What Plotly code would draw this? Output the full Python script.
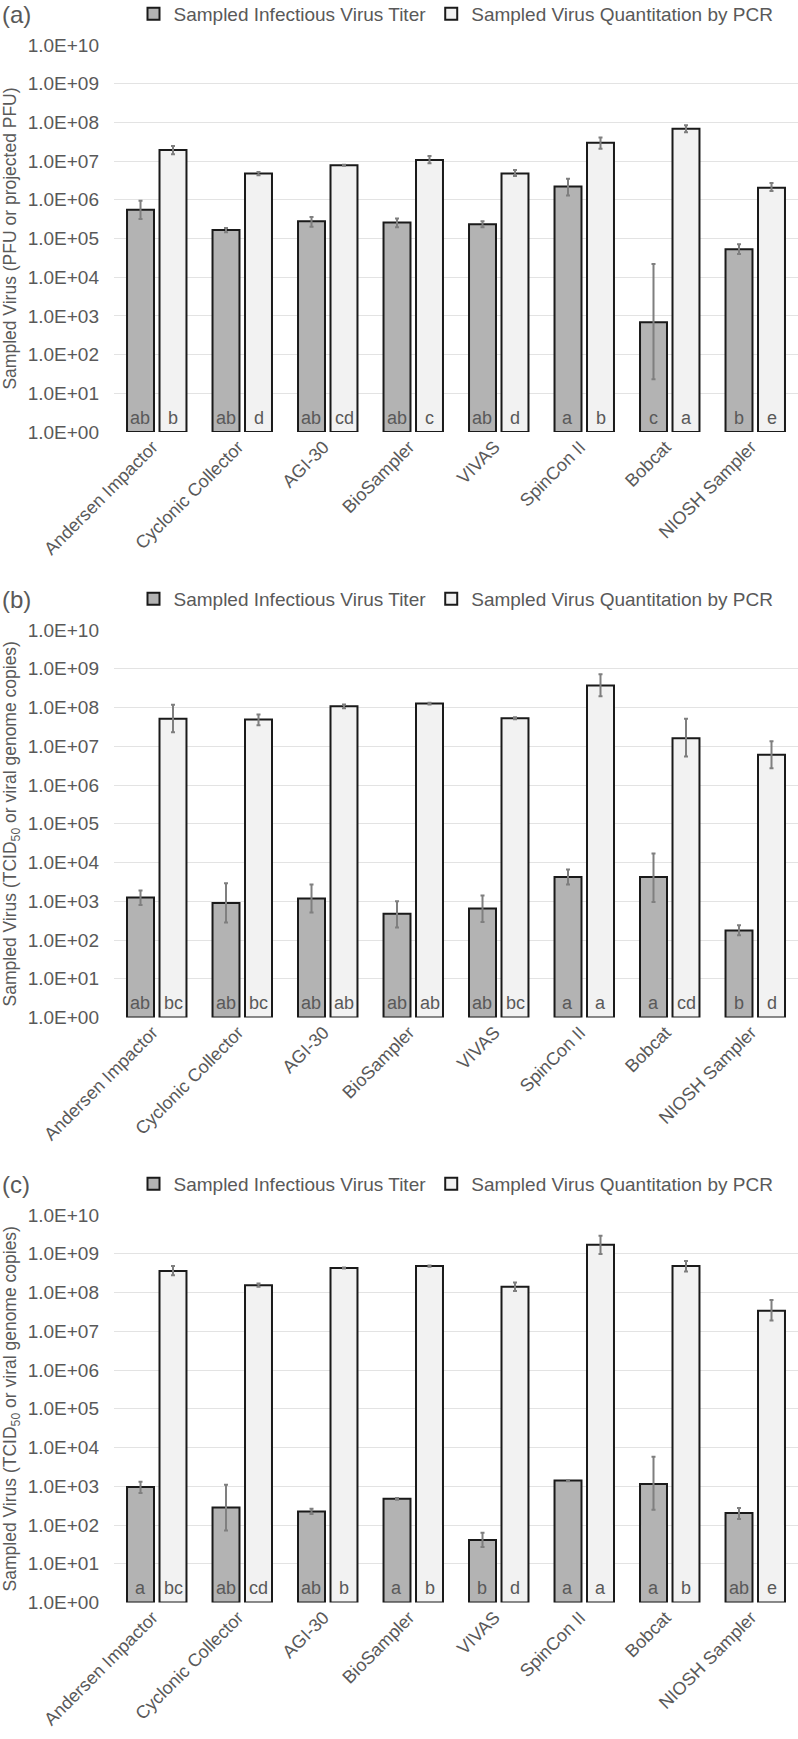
import plotly.graph_objects as go

categories = ["Andersen Impactor", "Cyclonic Collector", "AGI-30", "BioSampler",
              "VIVAS", "SpinCon II", "Bobcat", "NIOSH Sampler"]

series_names = ["Sampled Infectious Virus Titer", "Sampled Virus Quantitation by PCR"]

# Panel (a)
titer_a = [5.5e5, 1.66e5, 2.8e5, 2.6e5, 2.33e5, 2.2e6, 680, 5.3e4]
titer_a_hi = [9.5e5, 1.87e5, 3.6e5, 3.3e5, 2.8e5, 3.5e6, 2.2e4, 7.1e4]
titer_a_lo = [3.2e5, 1.45e5, 2.0e5, 1.95e5, 1.95e5, 1.3e6, 22, 4.0e4]
pcr_a = [1.95e7, 4.8e6, 7.8e6, 1.07e7, 4.8e6, 3.0e7, 6.9e7, 2.05e6]
pcr_a_hi = [2.45e7, 5.2e6, 8.0e6, 1.35e7, 5.9e6, 4.1e7, 8.5e7, 2.7e6]
pcr_a_lo = [1.5e7, 4.3e6, 7.6e6, 8.8e6, 4.1e6, 2.1e7, 5.6e7, 1.7e6]
letters_titer_a = ["ab", "ab", "ab", "ab", "ab", "a", "c", "b"]
letters_pcr_a = ["b", "d", "cd", "c", "d", "b", "a", "e"]

# Panel (b)
titer_b = [1.24e3, 900, 1.17e3, 475, 645, 4.2e3, 4.2e3, 174]
titer_b_hi = [1.9e3, 2.9e3, 2.7e3, 1.0e3, 1.4e3, 6.6e3, 1.7e4, 240]
titer_b_lo = [800, 280, 510, 210, 290, 2.7e3, 950, 132]
pcr_b = [5.1e7, 4.9e7, 1.07e8, 1.26e8, 5.3e7, 3.7e8, 1.6e7, 6.0e6]
pcr_b_hi = [1.18e8, 6.6e7, 1.2e8, 1.33e8, 5.6e7, 7.2e8, 5.1e7, 1.35e7]
pcr_b_lo = [2.3e7, 3.5e7, 9.6e7, 1.19e8, 5.0e7, 1.96e8, 5.4e6, 2.7e6]
letters_titer_b = ["ab", "ab", "ab", "ab", "ab", "a", "a", "b"]
letters_pcr_b = ["bc", "bc", "ab", "ab", "bc", "a", "cd", "d"]

# Panel (c)
titer_c = [950, 280, 222, 475, 40, 1.4e3, 1.15e3, 203]
titer_c_hi = [1.3e3, 1.1e3, 260, 500, 62, 1.45e3, 5.8e3, 273]
titer_c_lo = [670, 71, 190, 450, 26, 1.35e3, 245, 142]
pcr_c = [3.6e8, 1.54e8, 4.3e8, 4.8e8, 1.4e8, 1.7e9, 4.8e8, 3.4e7]
pcr_c_hi = [4.8e8, 1.7e8, 4.45e8, 5.0e8, 1.8e8, 2.9e9, 6.5e8, 6.4e7]
pcr_c_lo = [2.8e8, 1.4e8, 4.15e8, 4.6e8, 1.1e8, 9.9e8, 3.5e8, 1.9e7]
letters_titer_c = ["a", "ab", "ab", "a", "b", "a", "a", "ab"]
letters_pcr_c = ["bc", "cd", "b", "b", "d", "a", "b", "e"]

panel_labels = ["(a)", "(b)", "(c)"]
y_titles = ["Sampled Virus (PFU or projected PFU)",
            "Sampled Virus (TCID<sub>50</sub> or viral genome copies)",
            "Sampled Virus (TCID<sub>50</sub> or viral genome copies)"]
tick_vals = [1e0, 1e1, 1e2, 1e3, 1e4, 1e5, 1e6, 1e7, 1e8, 1e9, 1e10]
tick_text = ["1.0E+00", "1.0E+01", "1.0E+02", "1.0E+03", "1.0E+04", "1.0E+05",
             "1.0E+06", "1.0E+07", "1.0E+08", "1.0E+09", "1.0E+10"]

panels = [
    (titer_a, titer_a_hi, titer_a_lo, pcr_a, pcr_a_hi, pcr_a_lo, letters_titer_a, letters_pcr_a),
    (titer_b, titer_b_hi, titer_b_lo, pcr_b, pcr_b_hi, pcr_b_lo, letters_titer_b, letters_pcr_b),
    (titer_c, titer_c_hi, titer_c_lo, pcr_c, pcr_c_hi, pcr_c_lo, letters_titer_c, letters_pcr_c),
]

W, H = 798, 1739
# pixel positions of the plot area (top, bottom) and legend centre per panel
plot_px = [(45, 432), (630, 1017.5), (1215, 1602.5)]
legend_px = [14, 599, 1184]
label_px = [14, 599, 1184]

FONT = "Liberation Sans, Arial, sans-serif"
TXT = "#595959"
fills = ["#b3b3b3", "#f2f2f2"]

fig = go.Figure()
annotations = []
layout = {}

for i, (tv, th, tl, pv, ph, pl, lt, lp) in enumerate(panels):
    sfx = "" if i == 0 else str(i + 1)
    xa, ya = "x" + sfx, "y" + sfx
    leg = "legend" + sfx
    for j, (vals, hi, lo) in enumerate([(tv, th, tl), (pv, ph, pl)]):
        fig.add_trace(go.Bar(
            x=categories, y=vals, base=1,
            name=series_names[j], xaxis=xa, yaxis=ya, legend=leg,
            marker=dict(color=fills[j], line=dict(color="#1a1a1a", width=2)),
            error_y=dict(type="data", symmetric=False,
                         array=[h - v for h, v in zip(hi, vals)],
                         arrayminus=[v - l for v, l in zip(vals, lo)],
                         color="#7f7f7f", thickness=2, width=2),
        ))
    top, bot = plot_px[i]
    layout["yaxis" + sfx] = dict(
        type="log", range=[0, 10], domain=[1 - bot / H, 1 - top / H],
        anchor=xa, tickvals=tick_vals, ticktext=tick_text,
        tickfont=dict(size=19, color=TXT, family=FONT),
        showgrid=True, gridcolor="#e3e3e3", gridwidth=1, zeroline=False,
        showline=False, ticklabelstandoff=14, automargin=False,
        title=dict(text=y_titles[i], font=dict(size=17.5, color=TXT, family=FONT), standoff=7),
    )
    layout["xaxis" + sfx] = dict(
        anchor=ya, domain=[0, 1], tickangle=-45,
        tickfont=dict(size=18, color=TXT, family=FONT),
        showgrid=False, showline=False, zeroline=False, automargin=False,
        ticklabelshift=-4,
    )
    layout[leg] = dict(
        orientation="h", x=0.5, xanchor="center", y=1 - legend_px[i] / H, yanchor="middle",
        font=dict(size=19, color=TXT, family=FONT), bgcolor="rgba(0,0,0,0)",
        itemwidth=30, traceorder="normal",
    )
    for k, cat in enumerate(categories):
        for shift, txt in [(-16.5, lt[k]), (16.5, lp[k])]:
            annotations.append(dict(
                x=cat, y=0.37, xref=xa, yref=ya, xshift=shift, text=txt,
                showarrow=False, font=dict(size=18, color=TXT, family=FONT),
                xanchor="center", yanchor="middle",
            ))
    annotations.append(dict(
        x=-114 / (W - 114), y=1 - label_px[i] / H, xref="paper", yref="paper",
        text=panel_labels[i], showarrow=False, xanchor="left", yanchor="middle",
        font=dict(size=24, color=TXT, family=FONT),
    ))

fig.update_layout(
    width=W, height=H,
    margin=dict(l=114, r=0, t=0, b=0, autoexpand=False),
    paper_bgcolor="white", plot_bgcolor="white",
    barmode="group", bargap=0.24, bargroupgap=0.17,
    annotations=annotations,
    font=dict(family=FONT, color=TXT),
    **layout,
)

fig.write_html("out.html", config={"displayModeBar": False},
               post_script="document.body.style.margin='0px';")
